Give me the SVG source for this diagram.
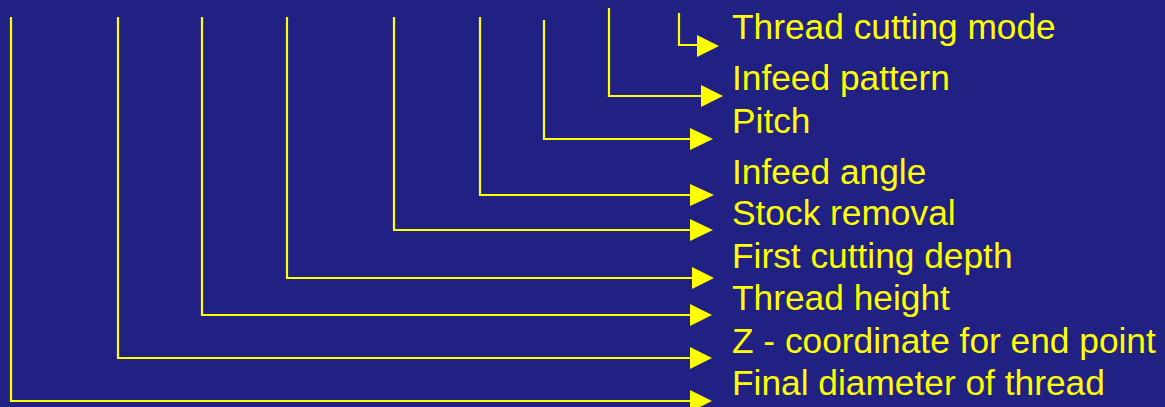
<svg xmlns="http://www.w3.org/2000/svg" width="1165" height="407" viewBox="0 0 1165 407">
<defs>
<style>
.bg{fill:#212184}
.ln{fill:none;stroke:#ffff00;stroke-width:2.2}
.ar{fill:#ffff00}
.t{font-family:"Liberation Sans",Arial,sans-serif;font-size:35.3px;fill:#ffff00}
</style>
</defs>
<rect class="bg" x="0" y="0" width="1165" height="407"/>
<g id="connectors">
<polyline class="ln" points="679,13 679,45 699,45"/>
<polygon class="ar" points="697,35 719,46 697,57"/>
<polyline class="ln" points="609,8 609,96 703,96"/>
<polygon class="ar" points="701,85 723,96 701,107"/>
<polyline class="ln" points="544,20 544,139 692,139"/>
<polygon class="ar" points="690,128 713,139 690,150"/>
<polyline class="ln" points="480,17 480,195 692,195"/>
<polygon class="ar" points="690,184 714,195 690,206"/>
<polyline class="ln" points="394,17 394,230 692,230"/>
<polygon class="ar" points="690,219 713,230 690,241"/>
<polyline class="ln" points="287,17 287,278 694,278"/>
<polygon class="ar" points="692,267 714,278 692,289"/>
<polyline class="ln" points="202,17 202,315 692,315"/>
<polygon class="ar" points="690,304 712,315 690,326"/>
<polyline class="ln" points="118,17 118,358 692,358"/>
<polygon class="ar" points="690,347 712,358 690,369"/>
<polyline class="ln" points="11,17 11,401 692,401"/>
<polygon class="ar" points="690,390 712,401 690,412"/>
</g>
<g id="n1"><text class="t" x="732" y="39">Thread cutting mode</text></g>
<g id="n2"><text class="t" x="732" y="90">Infeed pattern</text></g>
<g id="n3"><text class="t" x="732" y="133">Pitch</text></g>
<g id="n4"><text class="t" x="732" y="184">Infeed angle</text></g>
<g id="n5"><text class="t" x="732" y="225">Stock removal</text></g>
<g id="n6"><text class="t" x="732" y="268">First cutting depth</text></g>
<g id="n7"><text class="t" x="732" y="310">Thread height</text></g>
<g id="n8"><text class="t" x="732" y="353">Z - coordinate for end point</text></g>
<g id="n9"><text class="t" x="732" y="395">Final diameter of thread</text></g>
</svg>
